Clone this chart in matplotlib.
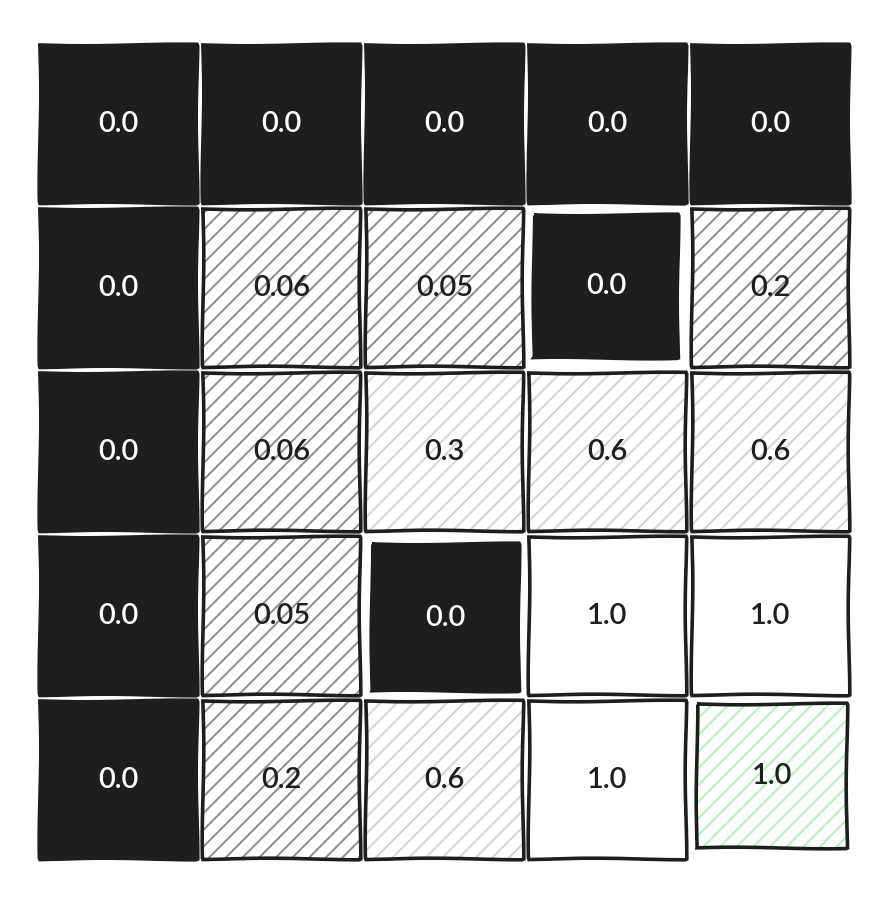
import numpy as np
import matplotlib.pyplot as plt
from matplotlib.patches import Rectangle

# ===============================
# Grid values (5 x 5)
# ===============================

values = [
    [0.0, 0.0, 0.0, 0.0, 0.0],
    [0.0, 0.06, 0.05, 0.0, 0.2],
    [0.0, 0.06, 0.3, 0.6, 0.6],
    [0.0, 0.05, 0.0, 1.0, 1.0],
    [0.0, 0.2, 0.6, 1.0, 1.0],
]
labels = [
    ["0.0", "0.0", "0.0", "0.0", "0.0"],
    ["0.0", "0.06", "0.05", "0.0", "0.2"],
    ["0.0", "0.06", "0.3", "0.6", "0.6"],
    ["0.0", "0.05", "0.0", "1.0", "1.0"],
    ["0.0", "0.2", "0.6", "1.0", "1.0"],
]
goal_cell = (4, 4)

# cells drawn a bit smaller than the grid slot
inset_cells = {(1, 3): (5, 6, 8, 9), (3, 2): (6, 7, 4, 4), (4, 4): (5, 3, 2, 11)}

# ===============================
# Layout
# ===============================

x_start, y_start = 37, 42
cell_w, cell_h = 163, 164
gap = 3
ink = "#1e1e1e"

fig = plt.figure(figsize=(8.96, 9.10), dpi=100)
ax = fig.add_axes([0, 0, 1, 1])
ax.set_xlim(0, 896)
ax.set_ylim(910, 0)
ax.axis("off")

plt.rcParams["hatch.linewidth"] = 1.4

for r, row in enumerate(values):
    for c, v in enumerate(row):
        x0 = x_start + c * cell_w + gap
        y0 = y_start + r * cell_h + gap
        w, h = cell_w - 2 * gap, cell_h - 2 * gap
        if (r, c) in inset_cells:
            dl, dt, dr, db = inset_cells[(r, c)]
            x0 += dl
            y0 += dt
            w -= dl + dr
            h -= dt + db

        if (r, c) == goal_cell:
            face, hatch_col, txt = "white", "#b2f2bb", ink
        elif v == 0.0:
            face, hatch_col, txt = ink, None, "white"
        elif v < 0.25:
            face, hatch_col, txt = "white", "#868e96", ink
        elif v < 1.0:
            face, hatch_col, txt = "white", "#ced4da", ink
        else:
            face, hatch_col, txt = "white", None, ink

        ax.add_patch(Rectangle((x0, y0), w, h, facecolor=face, edgecolor="none"))
        if hatch_col:
            hp = Rectangle((x0, y0), w, h, facecolor="none", edgecolor=hatch_col,
                           linewidth=0, hatch="//")
            ax.add_patch(hp)
        border = Rectangle((x0, y0), w, h, facecolor="none", edgecolor=ink, linewidth=2.6)
        border.set_sketch_params(scale=0.8, length=200, randomness=2)
        ax.add_patch(border)

        ax.text(x0 + w / 2, y0 + h / 2, labels[r][c], ha="center", va="center",
                fontsize=21, color=txt, family="Lato", fontweight="semibold")

plt.savefig("out.png", dpi=100)
